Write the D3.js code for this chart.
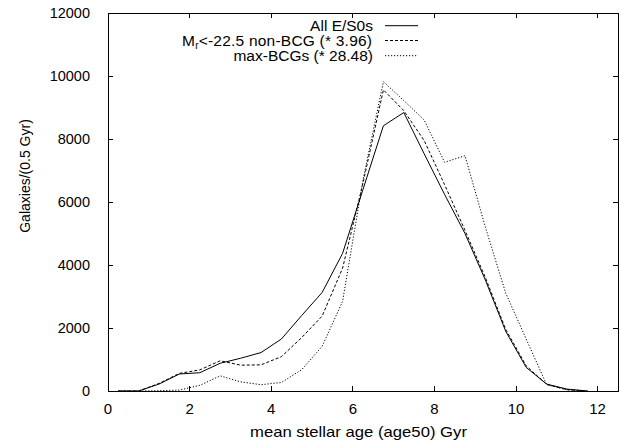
<!DOCTYPE html>
<html><head><meta charset="utf-8">
<script src="https://cdn.jsdelivr.net/npm/d3@7"></script>
<style>body{margin:0;background:#fff}svg{display:block}text{font-family:"Liberation Sans",Arial,sans-serif;fill:#000}</style>
</head><body><svg id="c" width="620" height="444"></svg>
<script>
const ages = [0.25,0.75,1.25,1.75,2.25,2.75,3.25,3.75,4.25,4.75,5.25,5.75,6.25,6.75,7.25,7.75,8.25,8.75,9.25,9.75,10.25,10.75,11.25,11.75];
const allES0 = [0,0,220,540,580,880,1040,1220,1650,2400,3130,4370,6400,8420,8840,7530,6240,5000,3520,1890,750,220,60,0];
const nonBCG = [0,0,240,560,670,960,820,830,1090,1700,2380,3900,6600,9560,8900,7950,6550,5100,3600,1950,800,210,40,0];
const maxBCG = [0,0,10,30,180,480,290,200,270,680,1420,2850,6700,9820,9220,8600,7260,7470,5200,3100,1650,200,40,0];
const xTicks = [0,2,4,6,8,10,12];
const yTicks = [0,2000,4000,6000,8000,10000,12000];
const seriesNames = ["All E/S0s","non-BCG","max-BCGs (* 28.48)"];

const svg = d3.select("#c");
const L=108,R=618,T=13,B=391;
const x = d3.scaleLinear().domain([0,12.5]).range([L,R]);
const y = d3.scaleLinear().domain([0,12000]).range([B,T]);
const tl = 5;

const g = svg.append("g").attr("shape-rendering","crispEdges");
xTicks.forEach(v=>{
  g.append("line").attr("x1",x(v)).attr("x2",x(v)).attr("y1",B).attr("y2",B-tl).attr("stroke","#000");
  g.append("line").attr("x1",x(v)).attr("x2",x(v)).attr("y1",T).attr("y2",T+tl).attr("stroke","#000");
});
yTicks.forEach(v=>{
  g.append("line").attr("x1",L).attr("x2",L+tl).attr("y1",y(v)).attr("y2",y(v)).attr("stroke","#000");
  g.append("line").attr("x1",R).attr("x2",R-tl).attr("y1",y(v)).attr("y2",y(v)).attr("stroke","#000");
});
g.append("rect").attr("x",L).attr("y",T).attr("width",R-L).attr("height",B-T).attr("fill","none").attr("stroke","#000");

const tg = svg.append("g");
xTicks.forEach(v=>{
  tg.append("text").attr("x",x(v)).attr("y",B+23).attr("text-anchor","middle").attr("font-size",15).text(v);
});
yTicks.forEach(v=>{
  tg.append("text").attr("x",90).attr("y",y(v)+5.3).attr("text-anchor","end").attr("font-size",14.5).text(v);
});
tg.append("text").attr("x",250).attr("y",437).attr("font-size",15)
  .attr("textLength",217).attr("lengthAdjust","spacingAndGlyphs").text("mean stellar age (age50) Gyr");
tg.append("text").attr("transform","translate(30,176) rotate(-90)").attr("text-anchor","middle").attr("font-size",14)
  .text("Galaxies/(0.5 Gyr)");

const line = d3.line().x((d,i)=>x(ages[i])).y(d=>y(d));
const styles = [null,"3,2","1.2,1.8"];
[allES0,nonBCG,maxBCG].forEach((s,k)=>{
  const p = svg.append("path").attr("d",line(s)).attr("fill","none").attr("stroke","#000").attr("stroke-width",1);
  if(styles[k]) p.attr("stroke-dasharray",styles[k]);
});

// legend
const ly = [25.7,40.5,55.7];
const tb = [31,45.7,61];
const lt = svg.append("g");
lt.append("text").attr("x",373).attr("y",tb[0]).attr("text-anchor","end").attr("font-size",15.5).text(seriesNames[0]);
const t2 = lt.append("text").attr("x",372).attr("y",tb[1]).attr("text-anchor","end").attr("font-size",15.5)
  .attr("textLength",190).attr("lengthAdjust","spacing");
t2.append("tspan").text("M");
t2.append("tspan").attr("font-size",10).attr("dy",3).text("r");
t2.append("tspan").attr("dy",-3).text("<-22.5 " + seriesNames[1] + " (* 3.96)");
lt.append("text").attr("x",373).attr("y",tb[2]).attr("text-anchor","end").attr("font-size",15.5).text(seriesNames[2]);
ly.forEach((yy,k)=>{
  const l = lt.append("line").attr("x1",385).attr("x2",418).attr("y1",yy).attr("y2",yy).attr("stroke","#000");
  if(styles[k]) l.attr("stroke-dasharray",styles[k]);
});
</script></body></html>
